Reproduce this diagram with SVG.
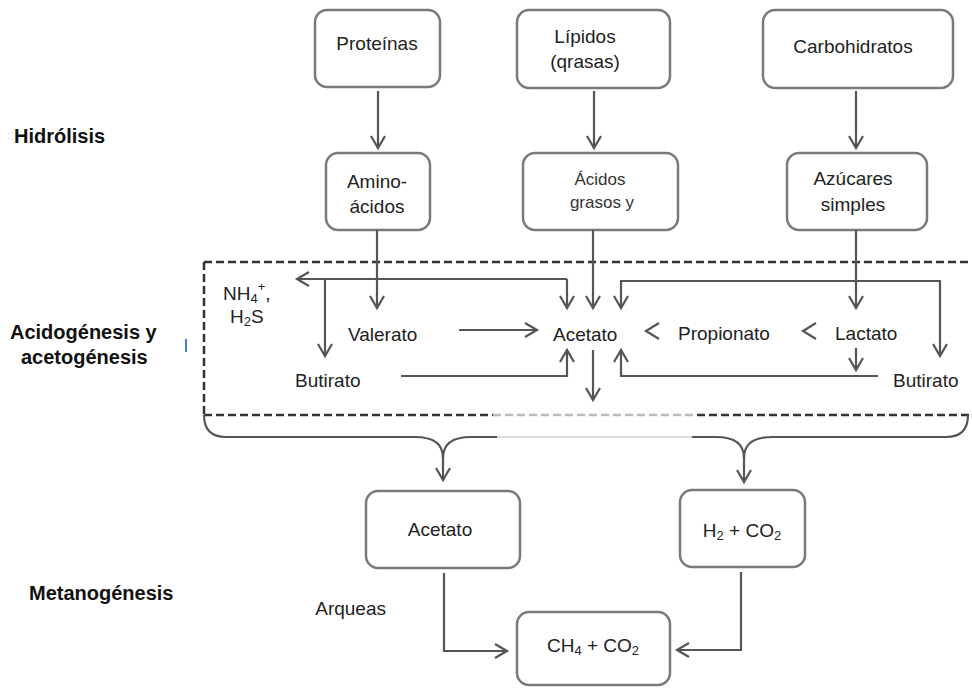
<svg xmlns="http://www.w3.org/2000/svg" width="972" height="688" viewBox="0 0 972 688">
<style>
  .box{fill:#fff;stroke:#7a7a7a;stroke-width:2.5}
  .t{font-family:"Liberation Sans",Arial,sans-serif;font-size:19px;fill:#222}
  .c{text-anchor:middle}
  .lbl{font-family:"Liberation Sans",Arial,sans-serif;font-size:20px;font-weight:bold;fill:#111}
  .ln{fill:none;stroke:#555;stroke-width:2.2}
  .ar{fill:none;stroke:#555;stroke-width:2.2;marker-end:url(#ah)}
  .dash{fill:none;stroke:#333;stroke-width:2.5;stroke-dasharray:8 4}
  .dashl{fill:none;stroke:#bbb;stroke-width:2.5;stroke-dasharray:8 4}
  .sub{font-size:13px}
</style>
<defs>
  <marker id="ah" markerWidth="16" markerHeight="18" refX="13" refY="8" orient="auto" markerUnits="userSpaceOnUse">
    <path d="M1,1 L13,8 L1,15" fill="none" stroke="#555" stroke-width="2.2"/>
  </marker>
</defs>
<rect width="972" height="688" fill="#fff"/>

<g id="labels">
  <text class="lbl" x="14" y="143">Hidrólisis</text>
  <text class="lbl" x="10" y="339">Acidogénesis y</text>
  <text class="lbl" x="21" y="364">acetogénesis</text>
  <text class="lbl" x="29" y="600">Metanogénesis</text>
  <rect x="185" y="339" width="2" height="13" fill="#4a7fc0"/>
</g>

<g id="zone">
  <path class="dash" d="M204,262 H972"/>
  <path class="dash" d="M204,262 V415"/>
  <path class="dash" d="M204,415 H493"/>
  <path class="dashl" d="M493,415 H697"/>
  <path class="dash" d="M697,415 H972"/>
</g>

<g id="n-proteinas"><rect class="box" x="315" y="10" width="125" height="77" rx="12"/><text class="t c" x="377" y="50">Proteínas</text></g>
<g id="n-lipidos"><rect class="box" x="517" y="10" width="153" height="78" rx="12"/><text class="t c" x="585" y="43">Lípidos</text><text class="t c" x="585" y="68">(qrasas)</text></g>
<g id="n-carbohidratos"><rect class="box" x="763" y="10" width="190" height="78" rx="12"/><text class="t c" x="853" y="53">Carbohidratos</text></g>
<g id="n-aminoacidos"><rect class="box" x="326" y="153" width="104" height="77" rx="12"/><text class="t c" x="377" y="188">Amino-</text><text class="t c" x="377" y="213">ácidos</text></g>
<g id="n-acidosgrasos"><rect class="box" x="523" y="153" width="155" height="77" rx="12"/><text class="t c" x="600" y="185" style="font-size:17px;fill:#333">Ácidos</text><text class="t c" x="602" y="208" style="font-size:17px;fill:#333">grasos y</text></g>
<g id="n-azucares"><rect class="box" x="787" y="153" width="140" height="77" rx="12"/><text class="t c" x="853" y="185">Azúcares</text><text class="t c" x="853" y="211">simples</text></g>

<g id="n-nh4"><text class="t" x="223" y="300">NH<tspan class="sub" dy="3">4</tspan><tspan class="sub" dy="-12">+</tspan><tspan dy="9">,</tspan></text><text class="t" x="230" y="323">H<tspan class="sub" dy="3">2</tspan><tspan dy="-3">S</tspan></text></g>
<g id="n-valerato"><text class="t" x="348" y="341">Valerato</text></g>
<g id="n-acetato1"><text class="t" x="553" y="341">Acetato</text></g>
<g id="n-propionato"><text class="t" x="678" y="340">Propionato</text></g>
<g id="n-lactato"><text class="t" x="835" y="340">Lactato</text></g>
<g id="n-butirato1"><text class="t" x="295" y="387">Butirato</text></g>
<g id="n-butirato2"><text class="t" x="893" y="387">Butirato</text></g>

<g id="n-acetato2"><rect class="box" x="366" y="491" width="154" height="77" rx="12"/><text class="t c" x="440" y="536">Acetato</text></g>
<g id="n-h2co2"><rect class="box" x="680" y="490" width="125" height="77" rx="12"/><text class="t c" x="742" y="537">H<tspan class="sub" dy="3">2</tspan><tspan dy="-3"> + CO</tspan><tspan class="sub" dy="3">2</tspan></text></g>
<g id="n-ch4co2"><rect class="box" x="517" y="612" width="153" height="73" rx="12"/><text class="t c" x="593" y="652">CH<tspan class="sub" dy="3">4</tspan><tspan dy="-3"> + CO</tspan><tspan class="sub" dy="3">2</tspan></text></g>
<g id="n-arqueas"><text class="t" x="386" y="615" text-anchor="end">Arqueas</text></g>

<g id="connectors">
  <path class="ar" d="M378,91 V148"/>
  <path class="ar" d="M594,91 V148"/>
  <path class="ar" d="M856,91 V148"/>
  <path class="ar" d="M377,230 V308"/>
  <path class="ar" d="M593,230 V308"/>
  <path class="ar" d="M856,230 V308"/>
  <path class="ar" d="M567,279 H297"/>
  <path class="ar" d="M567,279 V308"/>
  <path class="ar" d="M325,279 V356"/>
  <path class="ar" d="M940,281 H621 V308"/>
  <path class="ar" d="M621,281 H940 V356"/>
  <path class="ar" d="M459,330 H537"/>
  <path class="ln" d="M659,323 L646,331 L659,339"/>
  <path class="ln" d="M816,323 L803,331 L816,339"/>
  <path class="ar" d="M401,376 H567 V350"/>
  <path class="ar" d="M593,350 V400"/>
  <path class="ar" d="M856,348 V370"/>
  <path class="ar" d="M878,376 H621 V350"/>
  <path class="ln" d="M204,415 Q204,437 226,437 H415 Q443,437 443,458 Q443,437 471,437 H497"/>
  <path fill="none" stroke="#ddd" stroke-width="2.2" d="M497,437 H692"/>
  <path class="ln" d="M692,437 H716 Q744,437 744,458 Q744,437 772,437 H946 Q968,437 968,415"/>
  <path class="ar" d="M443,456 V480"/>
  <path class="ar" d="M744,456 V482"/>
  <path class="ar" d="M444,573 V651 H507"/>
  <path class="ar" d="M741,572 V650 H677"/>
</g>
</svg>
